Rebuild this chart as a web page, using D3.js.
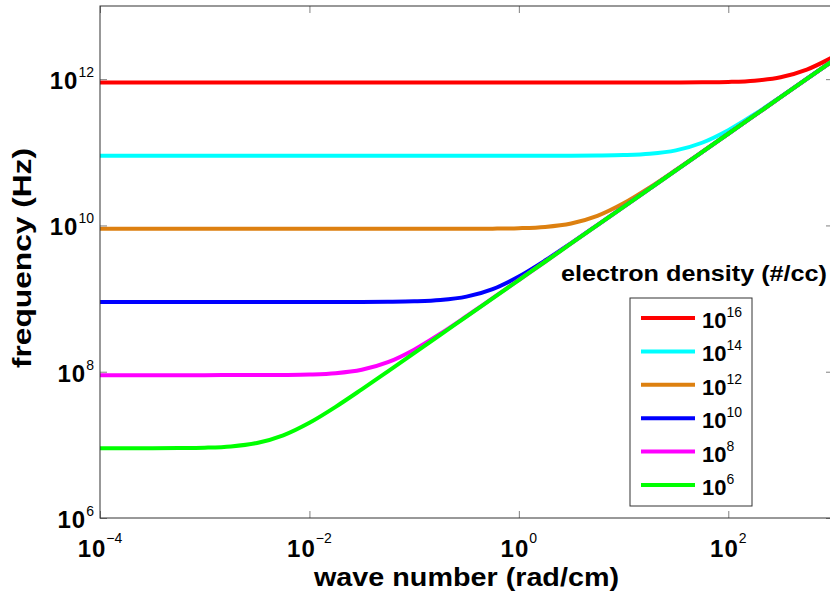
<!DOCTYPE html>
<html>
<head>
<meta charset="utf-8">
<script src="https://cdn.jsdelivr.net/npm/d3@7"></script>
<style>
body { margin: 0; background: #fff; }
text { font-family: "Liberation Sans", Arial, Helvetica, sans-serif; fill: #000; }
</style>
</head>
<body>
<script>
// wave number samples (rad/cm), a quarter of a decade apart
const waveNumber = [1e-4, 1.78e-4, 3.16e-4, 5.62e-4, 1e-3, 1.78e-3, 3.16e-3, 5.62e-3,
    1e-2, 1.78e-2, 3.16e-2, 5.62e-2, 0.1, 0.178, 0.316, 0.562,
    1, 1.78, 3.16, 5.62, 10, 17.8, 31.6, 56.2, 100, 178, 316, 562, 1000];

// frequency (Hz), one list per electron density
const freqN16 = [8.98e11, 8.98e11, 8.98e11, 8.98e11, 8.98e11, 8.98e11, 8.98e11, 8.98e11,
    8.98e11, 8.98e11, 8.98e11, 8.98e11, 8.98e11, 8.98e11, 8.98e11, 8.98e11,
    8.98e11, 8.98e11, 8.98e11, 8.98e11, 8.98e11, 8.99e11, 9.00e11, 9.04e11,
    9.16e11, 9.53e11, 1.062e12, 1.350e12, 2.004e12];
const freqN14 = [8.98e10, 8.98e10, 8.98e10, 8.98e10, 8.98e10, 8.98e10, 8.98e10, 8.98e10,
    8.98e10, 8.98e10, 8.98e10, 8.98e10, 8.98e10, 8.98e10, 8.98e10, 8.98e10,
    8.98e10, 8.99e10, 9.00e10, 9.04e10, 9.16e10, 9.53e10, 1.062e11, 1.350e11,
    2.004e11, 3.310e11, 5.736e11, 1.012e12, 1.794e12];
const freqN12 = [8.98e9, 8.98e9, 8.98e9, 8.98e9, 8.98e9, 8.98e9, 8.98e9, 8.98e9,
    8.98e9, 8.98e9, 8.98e9, 8.98e9, 8.98e9, 8.99e9, 9.00e9, 9.04e9,
    9.16e9, 9.53e9, 1.062e10, 1.350e10, 2.004e10, 3.310e10, 5.736e10, 1.012e11,
    1.794e11, 3.188e11, 5.667e11, 1.008e12, 1.792e12];
const freqN10 = [8.98e8, 8.98e8, 8.98e8, 8.98e8, 8.98e8, 8.98e8, 8.98e8, 8.98e8,
    8.98e8, 8.99e8, 9.00e8, 9.04e8, 9.16e8, 9.53e8, 1.062e9, 1.350e9,
    2.004e9, 3.310e9, 5.736e9, 1.012e10, 1.794e10, 3.188e10, 5.667e10, 1.008e11,
    1.792e11, 3.186e11, 5.666e11, 1.008e12, 1.792e12];
const freqN8 = [8.98e7, 8.98e7, 8.98e7, 8.98e7, 8.98e7, 8.99e7, 9.00e7, 9.04e7,
    9.16e7, 9.53e7, 1.062e8, 1.350e8, 2.004e8, 3.310e8, 5.736e8, 1.012e9,
    1.794e9, 3.188e9, 5.667e9, 1.008e10, 1.792e10, 3.186e10, 5.666e10, 1.008e11,
    1.792e11, 3.186e11, 5.666e11, 1.008e12, 1.792e12];
const freqN6 = [8.98e6, 8.99e6, 9.00e6, 9.04e6, 9.16e6, 9.53e6, 1.062e7, 1.350e7,
    2.004e7, 3.310e7, 5.736e7, 1.012e8, 1.794e8, 3.188e8, 5.667e8, 1.008e9,
    1.792e9, 3.186e9, 5.666e9, 1.008e10, 1.792e10, 3.186e10, 5.666e10, 1.008e11,
    1.792e11, 3.186e11, 5.666e11, 1.008e12, 1.792e12];

const densityExp = ["16", "14", "12", "10", "8", "6"];
const seriesFreq = [freqN16, freqN14, freqN12, freqN10, freqN8, freqN6];
const colors = ["#ff0000", "#00ffff", "#dd8010", "#0000ff", "#ff00ff", "#00ff00"];

const xTicks = [1e-4, 1e-2, 1, 1e2];
const xTickExp = ["\u22124", "\u22122", "0", "2"];
const yTicks = [1e6, 1e8, 1e10, 1e12];
const yTickExp = ["6", "8", "10", "12"];

const W = 830, H = 594;
const margin = {left: 100, top: 6, right: 833, bottom: 518};

const svg = d3.select("body").append("svg")
    .attr("width", W)
    .attr("height", H);

const x = d3.scaleLog().domain([1e-4, 1e3]).range([margin.left, margin.right]);
const y = d3.scaleLog().domain([1e6, 1e13]).range([margin.bottom, margin.top]);

svg.append("clipPath").attr("id", "plotclip")
  .append("rect")
    .attr("x", margin.left).attr("y", margin.top)
    .attr("width", margin.right - margin.left).attr("height", margin.bottom - margin.top);

// curves, drawn in legend order so green ends on top
const line = d3.line()
    .x(d => x(d.k))
    .y(d => y(d.f))
    .curve(d3.curveMonotoneX);

const series = seriesFreq.map((fs, i) => ({
    exp: densityExp[i],
    color: colors[i],
    values: fs.map((f, j) => ({k: waveNumber[j], f: f}))
}));

svg.append("g")
    .attr("clip-path", "url(#plotclip)")
  .selectAll("path")
  .data(series)
  .enter().append("path")
    .attr("d", d => line(d.values))
    .attr("fill", "none")
    .attr("stroke", d => d.color)
    .attr("stroke-width", 4)
    .attr("stroke-linejoin", "round");

// axes: ticks pointing inward on all four sides
const tickLen = 7;
function styleAxis(g) {
    g.select(".domain").remove();
    g.selectAll(".tick line").attr("stroke", "#808080");
}
svg.append("g").attr("transform", "translate(0," + margin.bottom + ")")
    .call(d3.axisBottom(x).tickValues(xTicks).tickSize(-tickLen).tickFormat(""))
    .call(styleAxis);
svg.append("g").attr("transform", "translate(0," + margin.top + ")")
    .call(d3.axisTop(x).tickValues(xTicks).tickSize(-tickLen).tickFormat(""))
    .call(styleAxis);
svg.append("g").attr("transform", "translate(" + margin.left + ",0)")
    .call(d3.axisLeft(y).tickValues(yTicks).tickSize(-tickLen).tickFormat(""))
    .call(styleAxis);
svg.append("g").attr("transform", "translate(" + margin.right + ",0)")
    .call(d3.axisRight(y).tickValues(yTicks).tickSize(-tickLen).tickFormat(""))
    .call(styleAxis);

svg.append("rect")
    .attr("x", margin.left).attr("y", margin.top)
    .attr("width", margin.right - margin.left).attr("height", margin.bottom - margin.top)
    .attr("fill", "none")
    .attr("stroke", "#333")
    .attr("stroke-width", 1);

// tick labels written as 10 with a raised exponent
xTicks.forEach((t, i) => {
    const tx = svg.append("text")
        .attr("x", x(t))
        .attr("y", margin.bottom + 39)
        .attr("text-anchor", "middle")
        .attr("font-size", "24px")
        .attr("font-weight", "bold")
        .attr("letter-spacing", "1px")
        .text("10");
    tx.append("tspan")
        .attr("dy", -14)
        .attr("font-size", "14px")
        .attr("font-weight", "normal")
        .attr("letter-spacing", "0px")
        .text(xTickExp[i]);
});

yTicks.forEach((t, i) => {
    const ty = svg.append("text")
        .attr("x", margin.left - 6)
        .attr("y", y(t) + 10)
        .attr("text-anchor", "end")
        .attr("font-size", "24px")
        .attr("font-weight", "bold")
        .attr("letter-spacing", "1px")
        .text("10");
    ty.append("tspan")
        .attr("dy", -12)
        .attr("font-size", "14px")
        .attr("font-weight", "normal")
        .attr("letter-spacing", "0px")
        .text(yTickExp[i]);
});

// axis titles
svg.append("text")
    .attr("x", (margin.left + margin.right) / 2)
    .attr("y", 586)
    .attr("text-anchor", "middle")
    .attr("font-size", "25px")
    .attr("font-weight", "bold")
    .attr("textLength", 305)
    .attr("lengthAdjust", "spacingAndGlyphs")
    .text("wave number (rad/cm)");

svg.append("text")
    .attr("transform", "translate(31,258) rotate(-90)")
    .attr("text-anchor", "middle")
    .attr("font-size", "25px")
    .attr("font-weight", "bold")
    .attr("textLength", 220)
    .attr("lengthAdjust", "spacingAndGlyphs")
    .text("frequency (Hz)");

// legend
svg.append("text")
    .attr("x", 561)
    .attr("y", 281)
    .attr("font-size", "22px")
    .attr("font-weight", "bold")
    .attr("textLength", 266)
    .attr("lengthAdjust", "spacingAndGlyphs")
    .text("electron density (#/cc)");

const legend = svg.append("g").attr("transform", "translate(630,298)");
legend.append("rect")
    .attr("width", 122)
    .attr("height", 208)
    .attr("fill", "#fff")
    .attr("stroke", "#333")
    .attr("stroke-width", 1);

const entry = legend.selectAll("g.entry")
    .data(series)
    .enter().append("g")
    .attr("class", "entry")
    .attr("transform", (d, i) => "translate(0," + (20 + i * 33.4) + ")");

entry.append("line")
    .attr("x1", 11).attr("x2", 65)
    .attr("stroke", d => d.color)
    .attr("stroke-width", 4);

const lt = entry.append("text")
    .attr("x", 72)
    .attr("y", 10)
    .attr("font-size", "22px")
    .attr("font-weight", "bold")
    .text("10");
lt.append("tspan")
    .attr("dy", -11)
    .attr("font-size", "14px")
    .attr("font-weight", "normal")
    .text(d => d.exp);
</script>
</body>
</html>
